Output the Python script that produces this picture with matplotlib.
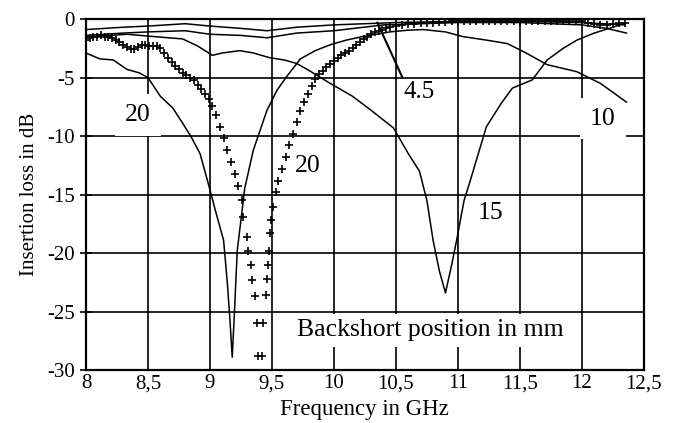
import matplotlib.pyplot as plt

# === Data ===
# solid curve with the dip near 9.2 GHz (ends at the "10" label)
f_solid_a = [8.0, 8.11, 8.22, 8.33, 8.43, 8.5, 8.6, 8.7, 8.78, 8.85, 8.92, 8.98, 9.05, 9.11,
             9.14, 9.16, 9.18, 9.2, 9.22, 9.26, 9.28, 9.35, 9.46, 9.54, 9.62, 9.73, 9.85,
             9.97, 10.1, 10.23, 10.45, 10.6, 10.72, 10.9, 11.04, 11.23, 11.4, 11.55, 11.72,
             11.96, 12.15, 12.36]
il_solid_a = [-2.9, -3.4, -3.5, -4.3, -4.6, -5.0, -6.6, -7.6, -8.9, -10.1, -11.5, -13.8, -16.6,
              -18.9, -22.5, -25.5, -28.9, -24.5, -19.8, -16.3, -14.5, -11.2, -7.8, -6.1, -4.9,
              -3.4, -2.7, -2.2, -1.8, -1.5, -1.1, -0.95, -0.9, -1.1, -1.5, -1.8, -2.1, -2.9,
              -3.9, -4.5, -5.5, -7.1]

# solid curve with the dip near 10.9 GHz ("15")
f_solid_b = [8.0, 8.2, 8.33, 8.55, 8.78, 8.9, 9.02, 9.1, 9.24, 9.35, 9.48, 9.6, 9.7, 9.8, 9.97,
             10.15, 10.3, 10.48, 10.6, 10.69, 10.75, 10.8, 10.85, 10.9, 10.95, 10.99, 11.05,
             11.1, 11.23, 11.35, 11.44, 11.6, 11.72, 11.85, 11.96, 12.1, 12.25, 12.35]
il_solid_b = [-1.5, -1.4, -1.3, -1.5, -1.7, -2.3, -3.1, -2.9, -2.7, -2.9, -3.3, -3.5, -3.8, -4.4,
              -5.5, -6.6, -7.8, -9.3, -11.5, -13.0, -15.5, -18.9, -21.5, -23.4, -21.0, -18.9,
              -15.5, -13.8, -9.2, -7.2, -5.9, -5.2, -3.5, -2.5, -1.8, -1.2, -0.7, -0.35]

# two flat curves near 0 dB ("4.5" and the other one)
f_top_a = [8.0, 8.3, 8.5, 8.8, 9.0, 9.25, 9.46, 9.7, 10.0, 10.5, 11.0, 11.5, 12.0, 12.35]
il_top_a = [-0.9, -0.7, -0.6, -0.4, -0.6, -0.8, -1.0, -0.7, -0.5, -0.3, -0.2, -0.2, -0.3, -0.5]
f_top_b = [8.0, 8.3, 8.5, 8.8, 9.0, 9.25, 9.46, 9.7, 10.0, 10.4, 11.0, 11.5, 12.0, 12.2, 12.36]
il_top_b = [-1.4, -1.2, -1.1, -1.0, -1.3, -1.4, -1.6, -1.2, -1.0, -0.5, -0.3, -0.3, -0.5, -0.8, -1.2]

# measured points (crosses), written row by row with matching counts
f_cross = (
    [8.0, 8.03, 8.06, 8.09, 8.12, 8.15, 8.18, 8.21, 8.24, 8.27, 8.3, 8.33, 8.36, 8.39]
    + [8.42, 8.45, 8.48, 8.51, 8.54, 8.57, 8.6, 8.63, 8.66, 8.69, 8.72, 8.75, 8.78, 8.81]
    + [8.84, 8.87, 8.9, 8.93, 8.96, 8.99, 9.02, 9.05, 9.08, 9.11, 9.14, 9.17, 9.2, 9.23]
    + [9.26, 9.27, 9.3, 9.31, 9.33, 9.34, 9.36, 9.38, 9.39]
    + [9.42, 9.43, 9.45, 9.46, 9.47, 9.48, 9.485, 9.49, 9.51, 9.53, 9.55, 9.58, 9.61, 9.64]
    + [9.67, 9.7, 9.73, 9.76, 9.79, 9.82, 9.85, 9.88, 9.91, 9.94, 9.97, 10.0, 10.03, 10.06]
    + [10.09, 10.12, 10.15, 10.18, 10.21, 10.24, 10.27, 10.3, 10.33, 10.36, 10.39, 10.42]
    + [10.45, 10.5, 10.55, 10.6, 10.65, 10.7, 10.75, 10.8, 10.85, 10.9, 10.95]
    + [11.0, 11.05, 11.1, 11.15, 11.2, 11.25, 11.3, 11.35, 11.4, 11.45, 11.5]
    + [11.55, 11.6, 11.65, 11.7, 11.75, 11.8, 11.85, 11.9, 11.95, 12.0]
    + [12.05, 12.1, 12.15, 12.2, 12.25, 12.3, 12.35]
)
il_cross = (
    [-1.8, -1.6, -1.5, -1.5, -1.4, -1.5, -1.5, -1.6, -1.8, -2.0, -2.2, -2.4, -2.6, -2.6]
    + [-2.4, -2.2, -2.2, -2.3, -2.3, -2.3, -2.5, -2.9, -3.3, -3.7, -4.0, -4.3, -4.6, -4.8]
    + [-5.0, -5.2, -5.6, -6.0, -6.4, -6.8, -7.4, -8.2, -9.2, -10.2, -11.2, -12.2, -13.2, -14.3]
    + [-15.5, -16.9, -18.6, -19.8, -21.0, -22.3, -23.7, -26.0, -28.8]
    + [-28.8, -26.0, -23.6, -22.2, -21.0, -19.8, -18.3, -17.2, -16.1, -14.8, -13.8, -12.8, -11.8, -10.8]
    + [-9.8, -8.8, -7.9, -7.1, -6.4, -5.7, -5.1, -4.7, -4.4, -4.1, -3.8, -3.6, -3.3, -3.1]
    + [-2.9, -2.7, -2.5, -2.2, -2.0, -1.7, -1.5, -1.3, -1.1, -1.0, -0.9, -0.8]
    + [-0.7, -0.6, -0.5, -0.45, -0.4, -0.35, -0.3, -0.3, -0.25, -0.25, -0.2]
    + [-0.2, -0.2, -0.2, -0.2, -0.2, -0.2, -0.2, -0.2, -0.2, -0.2, -0.2]
    + [-0.2, -0.2, -0.2, -0.2, -0.2, -0.2, -0.2, -0.2, -0.2, -0.2]
    + [-0.3, -0.4, -0.5, -0.5, -0.4, -0.3, -0.3]
)

x_ticks = [8, 8.5, 9, 9.5, 10, 10.5, 11, 11.5, 12, 12.5]
x_labels = ["8", "8,5", "9", "9,5", "10", "10,5", "11", "11,5", "12", "12,5"]
y_ticks = [0, -5, -10, -15, -20, -25, -30]
y_labels = ["0", "-5", "-10", "-15", "-20", "-25", "-30"]

# === Figure ===
plt.rcParams['font.family'] = ['Liberation Serif', 'DejaVu Serif']
fig = plt.figure(figsize=(6.77, 4.23), dpi=100)
ax = fig.add_axes([0.127, 0.125, 0.824, 0.830])

ax.plot(f_solid_a, il_solid_a, color="black", lw=1.1, zorder=3)
ax.plot(f_solid_b, il_solid_b, color="black", lw=1.1, zorder=3)
ax.plot(f_top_a, il_top_a, color="black", lw=1.1, zorder=3)
ax.plot(f_top_b, il_top_b, color="black", lw=1.1, zorder=3)
ax.plot(f_cross, il_cross, ls="none", marker="+", ms=6, mew=1.2, color="black", zorder=3)

ax.set_xlim(8, 12.5)
ax.set_ylim(-30, 0)
ax.set_xticks(x_ticks)
ax.set_xticklabels(x_labels)
ax.set_yticks(y_ticks)
ax.set_yticklabels(y_labels)
ax.tick_params(axis="y", direction="inout", length=8, width=1.2, labelsize=15, pad=4)
ax.tick_params(axis="x", direction="in", length=0, labelsize=15, pad=3)
ax.grid(True, color="black", lw=1.2)
ax.set_axisbelow(True)
for s in ax.spines.values():
    s.set_linewidth(1.6)

ax.set_xlabel("Frequency in GHz", fontsize=16.5, labelpad=4)
ax.set_ylabel("Insertion loss in dB", fontsize=15, labelpad=6)

box = dict(boxstyle="square,pad=0.38", facecolor="white", edgecolor="none")
ax.text(8.42, -8.2, "20", fontsize=18.5, ha="center", va="center", bbox=box, zorder=1.5)
ax.text(12.17, -8.5, "10", fontsize=18.5, ha="center", va="center", bbox=box, zorder=1.5)
ax.text(9.79, -12.6, "20", fontsize=18.5, ha="center", va="center", zorder=4)
ax.text(11.26, -16.6, "15", fontsize=18.5, ha="center", va="center", zorder=4)
ax.annotate("4.5", xy=(10.35, -0.3), xytext=(10.69, -6.2), fontsize=18, ha="center",
            va="center", zorder=4,
            arrowprops=dict(arrowstyle="-", color="black", lw=1.5, relpos=(0, 1),
                            shrinkA=0, shrinkB=0))
ax.text(10.78, -26.6, "Backshort position in mm", fontsize=18.5, ha="center", va="center",
        bbox=dict(boxstyle="square,pad=0.22", facecolor="white", edgecolor="none"), zorder=1.5)

fig.savefig("out.png", dpi=100)
